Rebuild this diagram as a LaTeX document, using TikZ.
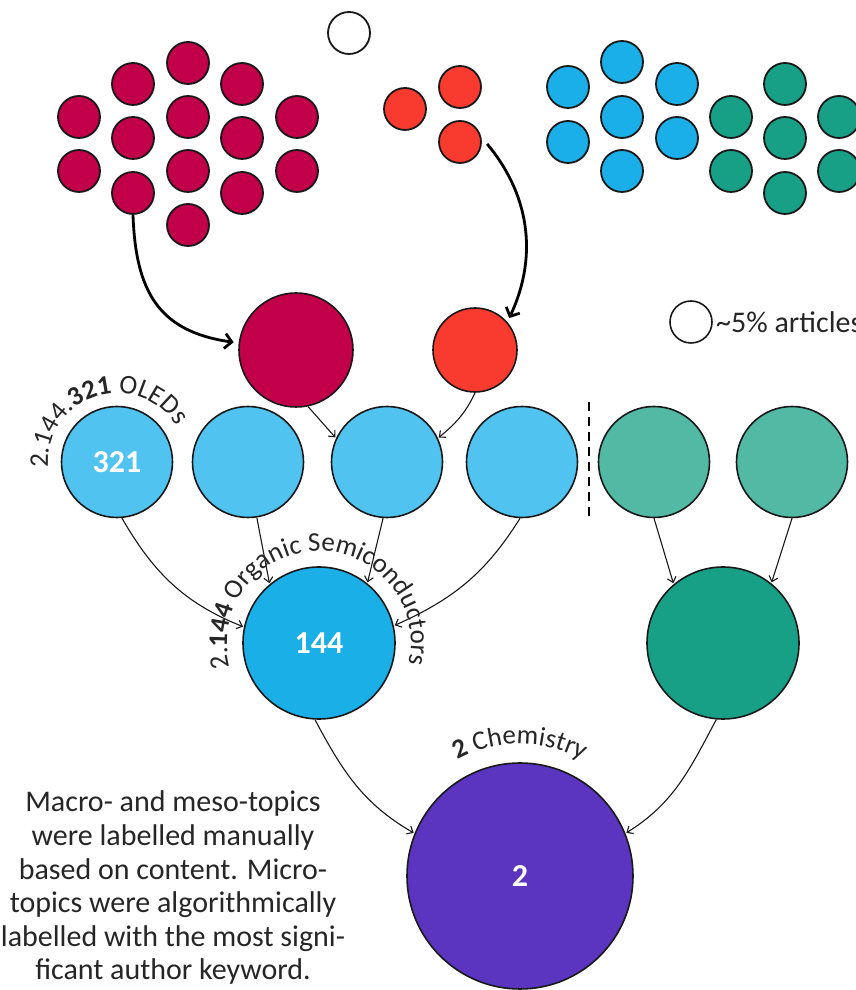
\documentclass[tikz,border=0pt]{standalone}
\usepackage{fontspec}
\setmainfont{Carlito}
\usetikzlibrary{arrows.meta,decorations.text}
\definecolor{crim}{HTML}{C2004A}
\definecolor{redc}{HTML}{F93A2F}
\definecolor{blues}{HTML}{1AAFE9}
\definecolor{greens}{HTML}{17A085}
\definecolor{bluem}{HTML}{50C3F1}
\definecolor{greenm}{HTML}{52B9A4}
\definecolor{blueb}{HTML}{1AAFE6}
\definecolor{greenb}{HTML}{17A085}
\definecolor{purp}{HTML}{5B35C0}
\definecolor{txt}{HTML}{262626}
\tikzset{
  dot/.style={circle,draw=black!90,line width=1.8pt,minimum size=42pt,inner sep=0pt},
  midc/.style={circle,draw=black!90,line width=1.6pt,minimum size=111pt,inner sep=0pt,fill=bluem},
  bigc/.style={circle,draw=black!90,line width=1.6pt,inner sep=0pt},
  num/.style={text=white,font=\fontsize{32}{32}\selectfont\bfseries},
  thinarrow/.style={line width=1.1pt,draw=black!90,-{Straight Barb[length=5pt,width=9pt,line width=1.1pt]},shorten >=1pt},
  thickarrow/.style={line width=2.8pt,-{Straight Barb[length=7pt,width=15pt,line width=2.8pt]}},
  arclabel/.style={decorate,decoration={text along path,text align=center,text color=txt}}
}
\begin{document}
\begin{tikzpicture}[x=1pt,y=1pt]
\useasboundingbox (0,0) rectangle (856,990);
\clip (0,0) rectangle (856,990);
\fill[white] (0,0) rectangle (856,990);
% crimson cluster
\foreach \n/\x/\y in {1/188/927,2/133/906,3/242/906,4/79/873,5/188/873,6/297/873,7/133/852,8/242/852,9/79/819,10/188/819,11/297/819,12/133/797,13/242/797,14/188/765}
  \node[dot,fill=crim] (c\n) at (\x,\y) {};
% white
\node[dot,fill=white] (w1) at (349,957) {};
% red
\node[dot,fill=redc] (r1) at (405,881) {};
\node[dot,fill=redc] (r2) at (460,903) {};
\node[dot,fill=redc] (r3) at (460,848) {};
% blue
\foreach \n/\x/\y in {1/568/903,2/622/928,3/677/906,4/622/873,5/568/848,6/677/852,7/622/819}
  \node[dot,fill=blues] (b\n) at (\x,\y) {};
% green
\foreach \n/\x/\y in {1/731/873,2/785/906,3/839/873,4/731/819,5/785/852,6/839/819,7/785/797}
  \node[dot,fill=greens] (gs\n) at (\x,\y) {};
% big crimson and red
\node[bigc,fill=crim,minimum size=114pt] (crbig) at (296,640) {};
\node[bigc,fill=redc,minimum size=84pt] (rdbig) at (475,640) {};
% legend
\node[dot,fill=white,line width=1.6pt] (leg) at (691,668) {};
\node[anchor=base west,text=txt,font=\fontsize{30}{30}\selectfont,inner sep=0pt] (legt) at (716,657) {\textasciitilde 5\% articles};
% mid row
\node[midc] (m1) at (117,528) {};
\node[num] at (m1) {321};
\node[midc] (m2) at (248,528) {};
\node[midc] (m3) at (387,528) {};
\node[midc] (m4) at (522,528) {};
\node[midc,fill=greenm] (g1) at (654,528) {};
\node[midc,fill=greenm] (g2) at (792,528) {};
\coordinate (dtop) at (589,588);
\coordinate (dbot) at (589,471);
\draw[line width=1.6pt,dash pattern=on 9pt off 6pt] (dtop) -- (dbot);
% big row
\node[bigc,fill=blueb,minimum size=152pt] (bb) at (319,347) {};
\node[num] at (bb) {144};
\node[bigc,fill=greenb,minimum size=152pt] (bg) at (723,347) {};
\node[bigc,fill=purp,minimum size=226pt] (pp) at (520,114) {};
\node[num] at (pp) {2};
% thick arrows
\draw[thickarrow,looseness=1.2] (c12.south) to[out=-88,in=172] ([shift={(172:5pt)}]crbig.173);
\draw[thickarrow,shorten <=9pt] (r3.13) to[out=-50,in=65] ([shift={(43:4pt)}]rdbig.43);
% thin arrows
\draw[thinarrow] (crbig.-78) -- (m3.155);
\draw[thinarrow] (rdbig.-90) to[out=-115,in=40] (m3.25);
\draw[thinarrow] (m1.-85) to[out=-60,in=158] (bb.168);
\draw[thinarrow] (m2.-81) -- (bb.130);
\draw[thinarrow] (m3.-94) -- (bb.51);
\draw[thinarrow] (m4.-92) to[out=-122,in=24] (bb.13);
\draw[thinarrow] (g1.-90) -- (bg.130);
\draw[thinarrow] (g2.-90) -- (bg.51);
\draw[thinarrow] (bb.-93) to[out=-62,in=150] (pp.158);
\draw[thinarrow] (bg.-95) to[out=-118,in=32] (pp.22);
% arc labels
{\fontsize{27}{27}\selectfont
\path[arclabel,decoration={text={2.144.|\bfseries|321|\mdseries| OLEDs}}]
  (117,528) ++(190:69) arc[start angle=190,end angle=26,radius=69];
\path[arclabel,decoration={text={|\bfseries|2|\mdseries| Chemistry}}]
  (520,114) ++(140:132) arc[start angle=140,end angle=40,radius=132];
\path[arclabel,decoration={text={2.|\bfseries|144|\mdseries| Organic Semiconductors}}]
  (319,347) ++(217:92) arc[start angle=217,end angle=-35,radius=92];
}
% paragraph
\node[align=center,text=txt,font=\fontsize{30}{33.6}\selectfont,inner sep=0pt] (para) at (173,102)
  {Macro- and meso-topics\\were labelled manually\\based on content. Micro-\\topics were algorithmically\\labelled with the most signi-\\ficant author keyword.};
\end{tikzpicture}
\end{document}
